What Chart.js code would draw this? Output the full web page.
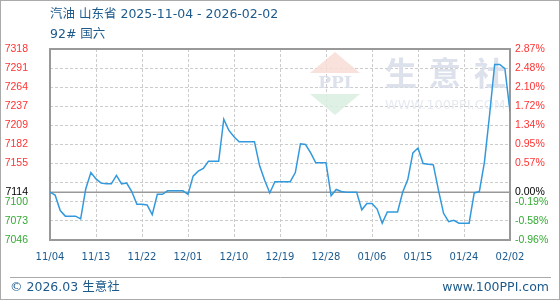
<!DOCTYPE html>
<html>
<head>
<meta charset="utf-8">
<script src="https://cdn.jsdelivr.net/npm/chart.js"></script>
<style>
  body { margin: 0; background: #fff; }
  canvas { display: block; }
</style>
</head>
<body>
<canvas id="grafico" width="560" height="300"></canvas>
<script>
// dati: un valore al giorno dal 04/11 al 02/02
var dateLabels = ['11/04', '11/13', '11/22', '12/01', '12/10', '12/19', '12/28', '01/06', '01/15', '01/24', '02/02'];
var prices = [
  7114, 7110, 7088, 7080, 7080, 7080, 7076, 7119, 7142, 7133,
  7127, 7126, 7126, 7138, 7126, 7127, 7115, 7097, 7097, 7096,
  7082, 7111, 7111, 7116, 7116, 7116, 7116, 7111, 7137, 7144,
  7148, 7158, 7158, 7158, 7218, 7202, 7193, 7186, 7186, 7186,
  7186, 7152, 7131, 7113, 7129, 7129, 7129, 7129, 7142, 7183,
  7182, 7170, 7156, 7156, 7156, 7109, 7118, 7115, 7114, 7114,
  7114, 7089, 7098, 7098, 7090, 7070, 7086, 7086, 7086, 7114,
  7132, 7170, 7177, 7155, 7154, 7153, 7117, 7084, 7072, 7074,
  7070, 7070, 7070, 7113, 7115, 7157, 7224, 7296, 7296, 7290,
  7229
];
var baseValue = 7114;
var yMin = 7046;
var yMax = 7318;
var leftLabels = ['7046', '7073', '7100', '', '7155', '7182', '7209', '7237', '7264', '7291', '7318'];
var rightLabels = ['-0.96%', '-0.58%', '-0.19%', '', '0.57%', '0.95%', '1.34%', '1.72%', '2.10%', '2.48%', '2.87%'];
var baseLeftLabel = '7114';
var baseRightLabel = '0.00%';
var titolo = '汽油 山东省 2025-11-04 - 2026-02-02';
var sottotitolo = '92# 国六';

var passo = (yMax - yMin) / 10;

function tickY(scale) {
    var t = [];
    for (var k = 0; k <= 10; k++) {
        t.push({ value: yMin + k * passo });
    }
    t.push({ value: baseValue });
    t.sort(function(a, b) { return a.value - b.value; });
    scale.ticks = t;
}

function etichetta(value, lista, base) {
    if (Math.abs(value - baseValue) < 0.01) return base;
    return lista[Math.round((value - yMin) / passo)];
}

function coloreTick(ctx) {
    var v = ctx.tick.value;
    if (Math.abs(v - baseValue) < 0.01) return '#000000';
    return v > baseValue ? '#ff3333' : '#33aa33';
}

var decorazioni = {
    id: 'decorazioni',
    beforeDraw: function(chart) {
        var c = chart.ctx;
        c.save();
        c.fillStyle = '#ffffff';
        c.fillRect(0, 0, chart.width, chart.height);
        c.restore();
    },
    beforeDatasetsDraw: function(chart) {
        var c = chart.ctx;
        var a = chart.chartArea;
        c.save();
        // filigrana
        c.globalAlpha = 0.85;
        c.fillStyle = '#f8dcd6';
        c.beginPath();
        c.moveTo(335, 52); c.lineTo(310, 73); c.lineTo(360, 73); c.closePath();
        c.fill();
        c.fillStyle = '#d9efdf';
        c.beginPath();
        c.moveTo(310, 94); c.lineTo(360, 94); c.lineTo(335, 115); c.closePath();
        c.fill();
        c.fillStyle = '#d6dce8';
        c.font = 'bold 17px "DejaVu Serif", serif';
        c.textAlign = 'center';
        c.textBaseline = 'middle';
        c.fillText('PPI', 335, 84);
        c.font = 'bold 32px "Noto Sans CJK SC"';
        c.textAlign = 'left';
        c.fillText('生', 385, 73);
        c.fillText('意', 429, 73);
        c.fillText('社', 474, 73);
        c.fillStyle = '#e2e6ee';
        c.font = '13px "DejaVu Sans"';
        c.fillText('WWW.100PPI.COM', 385, 106);
        c.restore();
        // cornice area
        c.save();
        c.strokeStyle = '#999999';
        c.lineWidth = 2;
        c.strokeRect(a.left, a.top, a.right - a.left, a.bottom - a.top);
        c.restore();
    },
    afterDraw: function(chart) {
        var c = chart.ctx;
        c.save();
        c.fillStyle = '#1d5a8c';
        c.textBaseline = 'middle';
        c.font = '12.5px "DejaVu Sans", "Noto Sans CJK SC"';
        c.fillText(titolo, 50, 15);
        c.fillText(sottotitolo, 50, 35);
        // piede
        c.strokeStyle = '#aaaaaa';
        c.lineWidth = 1;
        c.beginPath();
        c.moveTo(10, 277.5); c.lineTo(551, 277.5);
        c.stroke();
        c.font = '12.5px "DejaVu Sans", "Noto Sans CJK SC"';
        c.fillText('© 2026.03 生意社', 10, 288);
        c.textAlign = 'right';
        c.fillText('www.100PPI.com', 549, 288);
        // bordo esterno
        c.strokeStyle = '#aaaaaa';
        c.strokeRect(0.5, 0.5, chart.width - 1, chart.height - 1);
        c.restore();
    }
};

var ctx = document.getElementById('grafico');
var myChart = new Chart(ctx, {
    type: 'line',
    data: {
        datasets: [{
            data: prices.map(function(v, i) { return { x: i, y: v }; }),
            borderColor: '#3399dd',
            borderWidth: 1.5,
            pointRadius: 0,
            tension: 0,
            fill: false,
            order: 1
        }, {
            data: [{ x: 0, y: baseValue }, { x: prices.length - 1, y: baseValue }],
            borderColor: '#999999',
            borderWidth: 1.5,
            pointRadius: 0,
            fill: false,
            order: 2
        }]
    },
    options: {
        responsive: false,
        animation: false,
        events: [],
        layout: { padding: { top: 49, left: 0, right: 0, bottom: 0 } },
        plugins: { legend: { display: false }, tooltip: { enabled: false } },
        scales: {
            x: {
                type: 'linear',
                min: 0,
                max: prices.length - 1,
                afterFit: function(s) { s.height = 60; },
                grid: { color: '#cccccc', drawTicks: false },
                border: { display: false, dash: [3, 2] },
                ticks: {
                    stepSize: 9,
                    autoSkip: false,
                    maxRotation: 0,
                    padding: 11,
                    color: '#1d5a8c',
                    font: { family: 'DejaVu Sans', size: 10 },
                    callback: function(v, i) { return dateLabels[i]; }
                }
            },
            y: {
                position: 'left',
                min: yMin,
                max: yMax,
                afterBuildTicks: tickY,
                afterFit: function(s) { s.width = 50; },
                grid: {
                    drawTicks: false,
                    color: function(c) {
                        return Math.abs(c.tick.value - baseValue) < 0.01 ? 'rgba(0,0,0,0)' : '#cccccc';
                    }
                },
                border: { display: false, dash: [3, 2] },
                ticks: {
                    autoSkip: false,
                    padding: 22,
                    color: coloreTick,
                    font: { family: 'Liberation Sans', size: 10.5 },
                    callback: function(v) { return etichetta(v, leftLabels, baseLeftLabel); }
                }
            },
            y2: {
                position: 'right',
                min: yMin,
                max: yMax,
                afterBuildTicks: tickY,
                afterFit: function(s) { s.width = 50; },
                grid: { display: false, drawTicks: false },
                border: { display: false },
                ticks: {
                    autoSkip: false,
                    padding: 5,
                    color: coloreTick,
                    font: { family: 'Liberation Sans', size: 10.5 },
                    callback: function(v) { return etichetta(v, rightLabels, baseRightLabel); }
                }
            }
        }
    },
    plugins: [decorazioni]
});
</script>
</body>
</html>
